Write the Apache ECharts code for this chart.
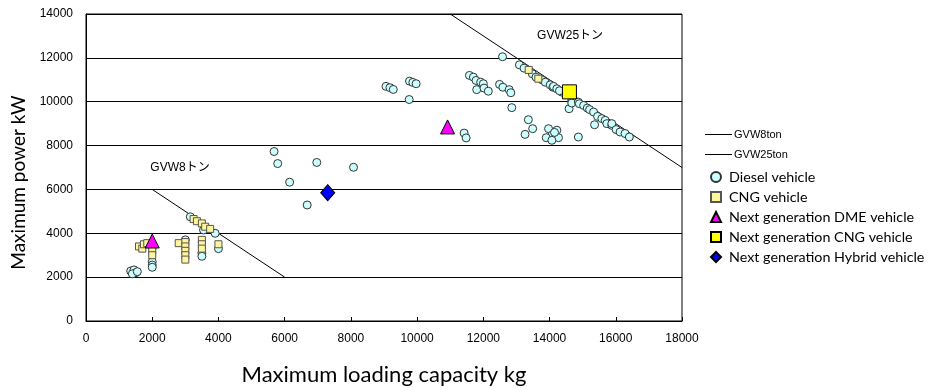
<!DOCTYPE html>
<html><head><meta charset="utf-8">
<script src="https://cdn.jsdelivr.net/npm/echarts@6/dist/echarts.min.js"></script>
<style>html,body{margin:0;padding:0;background:#fff}#c{width:936px;height:388px}</style>
</head><body><div id="c"></div>
<script>
const xTicks = [0,2000,4000,6000,8000,10000,12000,14000,16000,18000];
const yTicks = [0,2000,4000,6000,8000,10000,12000,14000];
const gvw8Line = [[2000,6000],[6000,2000]];
const gvw25Line = [[11000,14000],[18000,7000]];
const gvw8Label = [2840,6970];
const gvw25Label = [14620,13010];
const dieselData = [
 [1350,2280],[1450,2330],[1500,2200],[1400,2150],[1550,2250],
 [2000,2700],[2000,2550],[2000,2450],
 [3000,3700],[3500,3100],[3500,2950],[4000,3300],
 [3150,4750],[3550,4150],[3900,4000],
 [5680,7730],[5790,7180],[6970,7230],[8080,7010],[6150,6330],[6680,5290],
 [9060,10700],[9180,10640],[9280,10560],[9770,10940],[9870,10880],[9970,10820],[9760,10100],
 [11420,8570],[11480,8350],
 [11580,11200],[11700,11120],[11780,10970],[11920,10890],[12000,10820],[11800,10550],[12020,10620],[12150,10480],
 [12490,10790],[12590,10660],[12780,10550],[12830,10410],[12860,9730],[12580,12050],
 [13360,9180],[13490,8770],[13260,8510],[13970,8770],[14220,8700],[14070,8470],[13900,8360],[14270,8360],[14070,8240],[14150,8600],[14870,8390],[15360,8950],[14590,9680],
 [13090,11680],[13230,11530],[13480,11270],[13590,11120],[13770,11000],[13870,10890],[14020,10770],[14100,10660],[14120,10700],[14220,10590],[14370,10440],[14300,10500],
 [14670,10060],[14670,9940],[14870,9980],[14900,9910],[15030,9830],[15140,9710],[15210,9640],[15330,9530],[15450,9330],[15580,9230],[15680,9150],[15730,9000],[15880,8920],[15880,9000],[16010,8730],[16130,8620],[16280,8550],[16410,8390]
];
const cngData = [
 [1600,3400],[1700,3300],[1750,3500],[1850,3550],[2000,3400],[2000,3200],[2000,3000],
 [2800,3550],[3000,3600],[3000,3400],[3000,3200],[3000,3000],[3000,2800],
 [3500,3700],[3500,3500],[3500,3300],[4000,3500],
 [3250,4650],[3350,4550],[3500,4450],[3600,4300],[3750,4200],
 [13370,11450],[13660,11050]
];
const dmeData = [[2000,3650],[10920,8850]];
const nextCngData = [[14600,10450]];
const hybridData = [[7300,5850]];
const names = ['GVW8ton','GVW25ton','Diesel vehicle','CNG vehicle','Next generation DME vehicle','Next generation CNG vehicle','Next generation Hybrid vehicle'];

const chart = echarts.init(document.getElementById('c'));
const lblFont = {fontFamily:'Liberation Sans', fontSize:12, color:'#000'};
chart.setOption({
  animation:false,
  grid:{left:86, right:254, top:14, bottom:67, show:true, borderColor:'#000', borderWidth:1, outerBoundsMode:'none', containLabel:false},
  legend:[
    {data:[{name:names[0], icon:'rect'},{name:names[1], icon:'rect'}], orient:'vertical', left:700, top:124, itemWidth:27, itemHeight:1, itemGap:9,
     textStyle:{fontFamily:'Liberation Sans', fontSize:11, color:'#000', padding:[0,0,0,-3]}},
    {data:names.slice(2), orient:'vertical', left:705, top:165, itemWidth:10, itemHeight:10, itemGap:6,
     textStyle:{fontFamily:'Lato', fontSize:14.3, color:'#000', padding:[0,0,0,3]}}
  ],
  xAxis:{type:'value', min:xTicks[0], max:xTicks[xTicks.length-1], interval:2000,
    name:'Maximum loading capacity kg', nameLocation:'middle', nameGap:43,
    nameTextStyle:{fontFamily:'Lato', fontSize:22, color:'#000'},
    axisLine:{lineStyle:{color:'#000'}}, axisTick:{inside:true, length:4, lineStyle:{color:'#000'}},
    splitLine:{show:false}, axisLabel:Object.assign({margin:12, formatter:v=>String(v)}, lblFont)},
  yAxis:{type:'value', min:yTicks[0], max:yTicks[yTicks.length-1], interval:2000,
    name:'Maximum power kW', nameLocation:'middle', nameGap:54, nameRotate:90,
    nameTextStyle:{fontFamily:'Lato', fontSize:19, color:'#000', padding:[0,30,0,0]},
    axisLine:{show:true, lineStyle:{color:'#000'}}, axisTick:{show:false},
    splitLine:{lineStyle:{color:'#000', width:1}}, axisLabel:Object.assign({margin:13, formatter:v=>String(v)}, lblFont)},
  series:[
    {name:names[0], type:'line', data:gvw8Line, symbol:'none', lineStyle:{color:'#000', width:1}, itemStyle:{color:'#000'}, z:1,
     markPoint:{symbol:'circle', symbolSize:1, itemStyle:{color:'rgba(0,0,0,0)'},
       label:{show:true, position:'inside', formatter:'GVW8トン', fontFamily:'Liberation Sans, Noto Sans CJK JP', fontSize:12, color:'#000'},
       data:[{coord:gvw8Label}]}},
    {name:names[1], type:'line', data:gvw25Line, symbol:'none', lineStyle:{color:'#000', width:1}, itemStyle:{color:'#000'}, z:1,
     markPoint:{symbol:'circle', symbolSize:1, itemStyle:{color:'rgba(0,0,0,0)'},
       label:{show:true, position:'inside', formatter:'GVW25トン', fontFamily:'Liberation Sans, Noto Sans CJK JP', fontSize:12, color:'#000'},
       data:[{coord:gvw25Label}]}},
    {name:names[2], type:'scatter', data:dieselData, symbol:'circle', symbolSize:8,
     itemStyle:{color:'#CCFFFF', borderColor:'#333', borderWidth:1, opacity:1}, z:3},
    {name:names[3], type:'scatter', data:cngData, symbol:'rect', symbolSize:7,
     itemStyle:{color:'#FFF59A', borderColor:'#555', borderWidth:1, opacity:1}, z:4},
    {name:names[4], type:'scatter', data:dmeData, symbol:'triangle', symbolSize:14,
     itemStyle:{color:'#FF00FF', borderColor:'#000', borderWidth:1, opacity:1}, z:5},
    {name:names[5], type:'scatter', data:nextCngData, symbol:'rect', symbolSize:14,
     itemStyle:{color:'#FFFF00', borderColor:'#000', borderWidth:1, opacity:1}, z:5},
    {name:names[6], type:'scatter', data:hybridData, symbol:'diamond', symbolSize:[14,16],
     itemStyle:{color:'#0000FF', borderColor:'#000', borderWidth:1, opacity:1}, z:5}
  ]
});
</script></body></html>
